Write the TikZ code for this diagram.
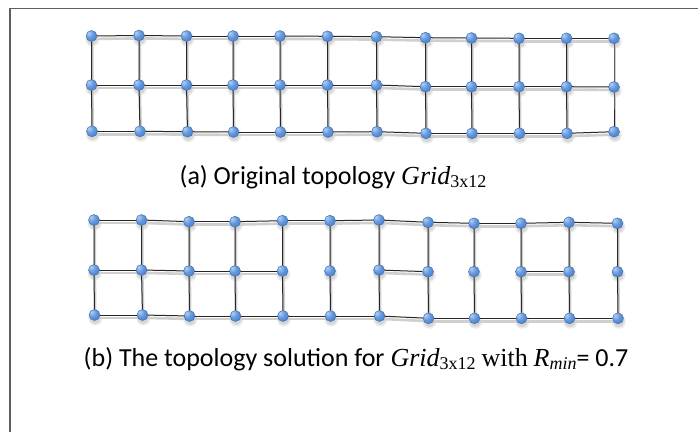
\documentclass[tikz,border=0pt]{standalone}
\usepackage{fontspec}
\setmainfont{Carlito}
\newfontfamily\tnr{Liberation Serif}

\definecolor{ballhi}{HTML}{B3D0F4}
\definecolor{ballmid}{HTML}{6196DC}
\definecolor{balldark}{HTML}{3A6BBA}
\definecolor{ballrim}{HTML}{3D68A8}
\definecolor{framegray}{HTML}{5E5E5E}

\pgfdeclarelayer{paperlayer}
\pgfdeclarelayer{shadowlayer}
\pgfdeclarelayer{linklayer}
\pgfsetlayers{paperlayer,shadowlayer,linklayer,main}

% glossy vertex: light spot up-left, darker rim
\pgfdeclareradialshading{nodeball}{\pgfpoint{-14bp}{14bp}}{%
  color(0bp)=(ballhi); color(20bp)=(ballmid); color(52bp)=(balldark); color(100bp)=(balldark)}

\newcommand\lowsub[1]{\raisebox{-0.25ex}{\fontsize{18}{18}\selectfont #1}}

\tikzset{
  vert/.style={circle, inner sep=0pt, minimum size=11pt, shading=nodeball,
               draw=ballrim, line width=0.4pt},
  link/.style={draw=black!85, line width=1pt},
  linkshadow/.style={draw=black!19, line width=2.6pt,
               transform canvas={shift={(0.8pt,-2.9pt)}}},
  capt/.style={anchor=base, inner sep=0pt, font=\fontsize{26}{30}\selectfont},
  frameline/.style={draw=framegray, line width=1.4pt},
}

\begin{document}
\begin{tikzpicture}[x=1pt,y=-1pt]
\useasboundingbox (0,0) rectangle (698,432);
\begin{pgfonlayer}{paperlayer}
  \fill[white] (0,0) rectangle (698,432);
\end{pgfonlayer}

% ---------- vertices of the original grid (column x / row y) ----------
\foreach \col/\px/\py in {1/91.5/36, 2/139/35.5, 3/186.5/36, 4/233/36, 5/280/36, 6/327.5/36.3,
                      7/376.5/36.7, 8/425.5/37.7, 9/471.5/38, 10/519/38.3, 11/566.5/38.3, 12/614/38.3}
  {\node[vert] (a1-\col) at (\px,\py) {};}
\foreach \col/\px/\py in {1/91.5/85, 2/139/85, 3/186.5/85, 4/233/85, 5/280/85, 6/327.5/85,
                      7/376.5/85, 8/425.5/86.7, 9/471.5/86.7, 10/519/86.7, 11/566.5/86.7, 12/614/87}
  {\node[vert] (a2-\col) at (\px,\py) {};}
\foreach \col/\px/\py in {1/92/131.3, 2/140/131.3, 3/187.5/131.7, 4/233.5/132, 5/280.5/132, 6/328/132,
                      7/377/131.7, 8/426/133.3, 9/472/133.3, 10/519.5/133.3, 11/567/133.3, 12/614/131.7}
  {\node[vert] (a3-\col) at (\px,\py) {};}

% ---------- vertices of the reduced topology ----------
\foreach \col/\px/\py in {1/94/220, 2/141.5/220, 3/189/221.7, 4/235/221.7, 5/282.5/220.7, 6/330/220.7,
                      7/379/220, 8/428/222.3, 9/474/223.3, 10/521/223.3, 11/569/222.3, 12/617.5/223.3}
  {\node[vert] (b1-\col) at (\px,\py) {};}
\foreach \col/\px/\py in {1/94/270, 2/141.5/270, 3/189/271, 4/235/271, 5/282.5/271, 6/330/271,
                      7/379/270, 8/428/271.7, 9/474/271.7, 10/521/271.7, 11/569/271.7, 12/617.5/271.7}
  {\node[vert] (b2-\col) at (\px,\py) {};}
\foreach \col/\px/\py in {1/94.5/315, 2/142.5/315, 3/189.5/316, 4/235.5/316, 5/283/316, 6/330.5/316,
                      7/379.5/316, 8/428.5/318.3, 9/474.5/318.3, 10/521.5/318.3, 11/569.5/318.3, 12/618/318.3}
  {\node[vert] (b3-\col) at (\px,\py) {};}

% ---------- soft shadows under the vertices ----------
\begin{pgfonlayer}{shadowlayer}
  \foreach \grd in {a1,a2,a3,b1,b2,b3} {
    \foreach \col in {1,2,3,4,5,6,7,8,9,10,11,12} {
      \fill[black!8]  ([shift={(0.8pt,-3.4pt)}]\grd-\col.center) circle (7pt);
      \fill[black!16] ([shift={(0.8pt,-3.4pt)}]\grd-\col.center) circle (5.5pt);
    }
  }
\end{pgfonlayer}

% ---------- links ----------
\begin{pgfonlayer}{linklayer}
  % horizontal links: all rows of the original grid, outer rows of the reduced one
  \foreach \grd in {a1,a2,a3,b1,b3} {
    \foreach \pa/\pb in {1/2,2/3,3/4,4/5,5/6,6/7,7/8,8/9,9/10,10/11,11/12} {
      \draw[linkshadow] (\grd-\pa.center) -- (\grd-\pb.center);
      \draw[link] (\grd-\pa.center) -- (\grd-\pb.center);
    }
  }
  % middle-row links kept in the reduced topology
  \foreach \pa/\pb in {1/2,2/3,3/4,4/5,7/8,10/11} {
    \draw[linkshadow] (b2-\pa.center) -- (b2-\pb.center);
    \draw[link] (b2-\pa.center) -- (b2-\pb.center);
  }
  % vertical links: every column in both topologies
  \foreach \grd in {a,b} {
    \foreach \col in {1,2,3,4,5,6,7,8,9,10,11,12} {
      \draw[linkshadow] (\grd1-\col.center) -- (\grd2-\col.center) -- (\grd3-\col.center);
      \draw[link] (\grd1-\col.center) -- (\grd2-\col.center) -- (\grd3-\col.center);
    }
  }
\end{pgfonlayer}

% ---------- captions ----------
\node[capt] (capA) at (333,184)
  {(a) Original topology {\tnr\itshape Grid}\lowsub{\tnr 3x12}};
\node[capt] (capB) at (356,366)
  {(b) The topology solution for {\tnr\itshape Grid}\lowsub{\tnr 3x12} {\tnr with} {\tnr\itshape R}\lowsub{\tnr\itshape min}= 0.7};

% ---------- frame (top and left edges) ----------
\coordinate (frameBL) at (10,432);
\coordinate (frameTL) at (10,8.5);
\coordinate (frameTR) at (698,8.5);
\draw[frameline] (frameBL) -- (frameTL) -- (frameTR);
\end{tikzpicture}
\end{document}
